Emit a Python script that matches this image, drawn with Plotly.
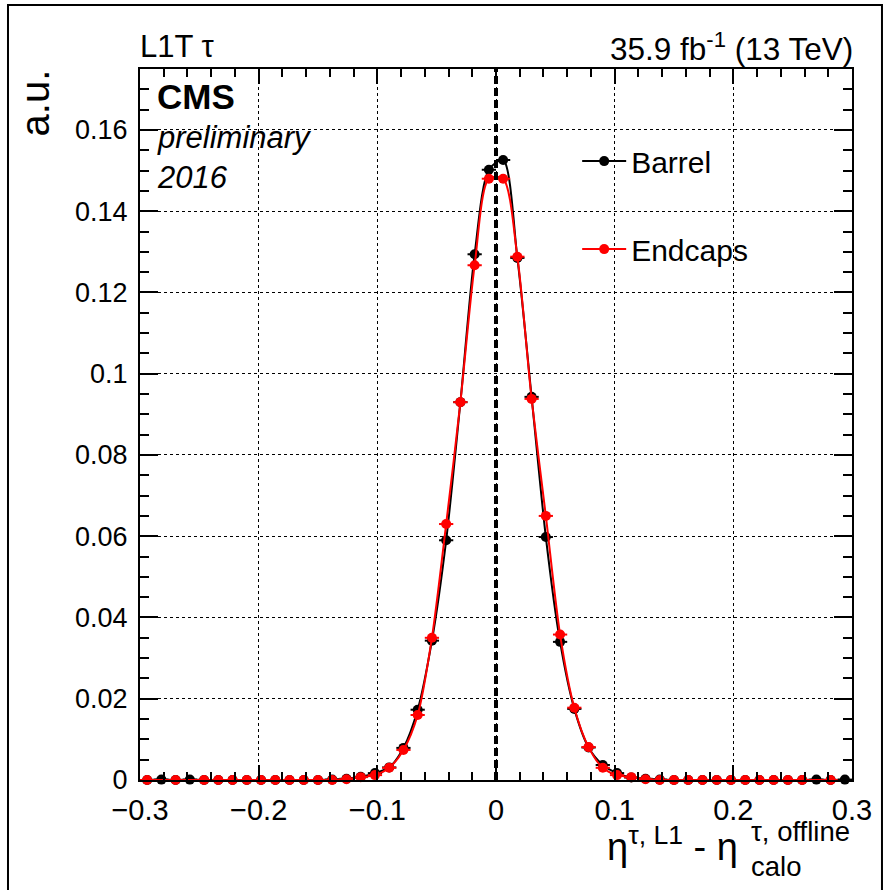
import plotly.graph_objects as go

# eta residual bins (centres), width 0.012
bin_centers = [
    -0.294, -0.282, -0.270, -0.258, -0.246, -0.234, -0.222, -0.210, -0.198, -0.186,
    -0.174, -0.162, -0.150, -0.138, -0.126, -0.114, -0.102, -0.090, -0.078, -0.066,
    -0.054, -0.042, -0.030, -0.018, -0.006, 0.006, 0.018, 0.030, 0.042, 0.054,
    0.066, 0.078, 0.090, 0.102, 0.114, 0.126, 0.138, 0.150, 0.162, 0.174,
    0.186, 0.198, 0.210, 0.222, 0.234, 0.246, 0.258, 0.270, 0.282, 0.294,
]
bin_half_width = 0.006

barrel = [
    0.0, 0.0001, 0.0, 0.0001, 0.0, 0.0, 0.0, 0.0, 0.0, 0.0,
    0.0, 0.0, 0.0, 0.0001, 0.0003, 0.0008, 0.0017, 0.0031, 0.0079, 0.0173,
    0.0343, 0.0590, 0.0930, 0.1294, 0.1502, 0.1526, 0.1285, 0.0943, 0.0598, 0.0340,
    0.0175, 0.0080, 0.0037, 0.0017, 0.0006, 0.0003, 0.0001, 0.0, 0.0, 0.0,
    0.0, 0.0, 0.0, 0.0, 0.0, 0.0, 0.0, 0.0001, 0.0, 0.0001,
]
endcaps = [
    0.0, None, 0.0, None, 0.0, 0.0, 0.0, 0.0, 0.0, 0.0,
    0.0, 0.0, 0.0, 0.0, 0.0002, 0.0007, 0.0012, 0.0030, 0.0074, 0.0160,
    0.0350, 0.0630, 0.0930, 0.1267, 0.1480, 0.1480, 0.1288, 0.0938, 0.0650, 0.0358,
    0.0178, 0.0081, 0.0030, 0.0012, 0.0007, 0.0002, 0.0, 0.0, 0.0, 0.0,
    0.0, 0.0, 0.0, 0.0, 0.0, 0.0, 0.0, None, 0.0, None,
]

x_tick_vals = [-0.3, -0.2, -0.1, 0.0, 0.1, 0.2, 0.3]
x_tick_text = ["\u22120.3", "\u22120.2", "\u22120.1", "0", "0.1", "0.2", "0.3"]
y_tick_vals = [0.0, 0.02, 0.04, 0.06, 0.08, 0.10, 0.12, 0.14, 0.16]
y_tick_text = ["0", "0.02", "0.04", "0.06", "0.08", "0.1", "0.12", "0.14", "0.16"]

FONT = "Liberation Sans, Arial, Helvetica, sans-serif"

fig = go.Figure()

for name, values, color, group in [
    ("Barrel", barrel, "black", "b"),
    ("Endcaps", endcaps, "#ff0000", "e"),
]:
    fig.add_trace(go.Scatter(
        x=bin_centers, y=values, name=name, legendgroup=group,
        mode="lines+markers", connectgaps=True, cliponaxis=False,
        line=dict(color=color, width=2, shape="spline", smoothing=0.8),
        marker=dict(color=color, size=10, symbol="circle"),
        error_x=dict(type="constant", value=bin_half_width, color=color,
                     thickness=2, width=0),
    ))

# white panel behind the legend, above the grid
fig.add_shape(type="rect", xref="paper", yref="paper",
              x0=0.594, x1=0.997, y0=0.671, y1=0.9395,
              fillcolor="white", line=dict(width=0), layer="between")

# vertical reference at zero
fig.add_vline(x=0, line=dict(color="black", width=4, dash="8px,4px"), layer="above")

# outer frame of the canvas
fig.add_shape(type="rect", xref="paper", yref="paper",
              x0=-0.1854, x1=1.0421, y0=-0.1617, y1=1.090,
              line=dict(color="black", width=2), fillcolor="rgba(0,0,0,0)")

annotations = [
    dict(text="L1T \u03c4", x=-0.003, y=1.0317, xanchor="left", yanchor="middle",
         font=dict(size=31)),
    dict(text="35.9 fb<sup>-1</sup> (13 TeV)", x=1.004, y=1.031, xanchor="right",
         yanchor="middle", font=dict(size=31.5)),
    dict(text="<b>CMS</b>", x=0.021, y=0.962, xanchor="left", yanchor="middle",
         font=dict(size=35)),
    dict(text="<i>preliminary</i>", x=0.021, y=0.903, xanchor="left", yanchor="middle",
         font=dict(size=31)),
    dict(text="<i>2016</i>", x=0.021, y=0.848, xanchor="left", yanchor="middle",
         font=dict(size=31)),
    dict(text="a.u.", x=-0.147, y=0.952, xanchor="center", yanchor="middle",
         textangle=-90, font=dict(size=40)),
    dict(text="\u03b7<sup>\u03c4, L1</sup> - \u03b7", x=0.843, y=-0.127,
         xanchor="right", yanchor="bottom", font=dict(size=38)),
    dict(text="\u03c4, offline", x=0.855, y=-0.0725, xanchor="left", yanchor="middle",
         font=dict(size=27.5)),
    dict(text="calo", x=0.855, y=-0.122, xanchor="left", yanchor="middle",
         font=dict(size=27.5)),
]
for a in annotations:
    a.update(xref="paper", yref="paper", showarrow=False)
    a["font"].update(family=FONT, color="black")

axis_common = dict(
    showline=True, linecolor="black", linewidth=2, mirror="ticks",
    ticks="inside", tickcolor="black", tickwidth=1.5,
    showgrid=True, gridcolor="black", gridwidth=1, griddash="3px,3px",
    zeroline=False,
)

fig.update_layout(
    width=887, height=890,
    margin=dict(l=140, r=35, t=69, b=110),
    paper_bgcolor="white", plot_bgcolor="white",
    font=dict(family=FONT, color="black"),
    showlegend=True,
    legend=dict(x=0.614, y=0.907, xanchor="left", yanchor="top",
                bgcolor="rgba(0,0,0,0)", borderwidth=0, itemwidth=44,
                traceorder="grouped", tracegroupgap=46,
                font=dict(family=FONT, size=30, color="black")),
    annotations=annotations,
    xaxis=dict(range=[-0.3, 0.3], tickvals=x_tick_vals, ticktext=x_tick_text,
               ticklen=15, ticklabelstandoff=3,
               tickfont=dict(family=FONT, size=29, color="black"),
               minor=dict(dtick=0.02, ticks="inside", ticklen=8, tickcolor="black",
                          tickwidth=1.5, showgrid=False),
               **axis_common),
    yaxis=dict(range=[0, 0.175], tickvals=y_tick_vals, ticktext=y_tick_text,
               ticklen=18, ticklabelstandoff=5,
               tickfont=dict(family=FONT, size=27, color="black"),
               minor=dict(dtick=0.005, ticks="inside", ticklen=9, tickcolor="black",
                          tickwidth=1.5, showgrid=False),
               **axis_common),
)

fig.write_html("out.html")
